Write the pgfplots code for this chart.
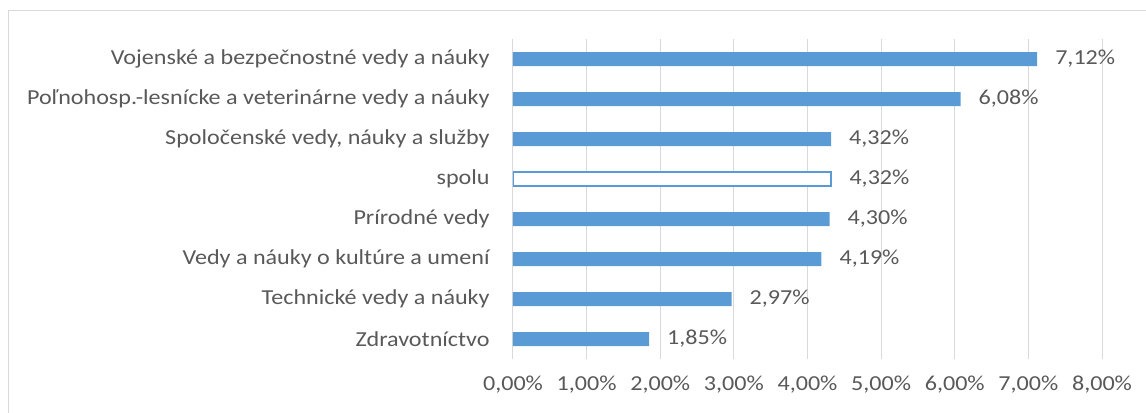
\documentclass[border=0pt]{standalone}
\usepackage{pgfplots}
\pgfplotsset{compat=1.18}
\usepackage{fontspec}
\setmainfont[FakeStretch=1.13]{Carlito}
\definecolor{barblue}{HTML}{5B9BD5}
\definecolor{txt}{HTML}{595959}
\definecolor{gridc}{HTML}{D9D9D9}
\begin{document}
\begin{tikzpicture}
\path[use as bounding box] (0,0) rectangle (859.5pt,309pt);
\draw[gridc, line width=0.75pt] (6pt,-5pt) -- (6pt,301.5pt) -- (870pt,301.5pt);
\begin{axis}[
    at={(384.75pt,39.75pt)}, anchor=south west,
    scale only axis, width=441.75pt, height=240pt,
    xbar, bar width=10.5pt, bar shift=0pt,
    xmin=0, xmax=8, xtick={0,1,...,8},
    ymin=-0.5, ymax=7.5,
    ytick={0,...,7},
    yticklabels={Zdravotníctvo, Technické vedy a náuky, Vedy a náuky o kultúre a umení, Prírodné vedy, spolu, {Spoločenské vedy, náuky a služby}, Poľnohosp.-lesnícke a veterinárne vedy a náuky, Vojenské a bezpečnostné vedy a náuky},
    axis line style={draw=none},
    major tick length=0pt,
    xmajorgrids=true, grid style={gridc, line width=0.75pt},
    font=\fontsize{16}{19}\selectfont,
    tick label style={txt},
    /pgf/number format/assume math mode=true,
    xticklabel={\pgfmathprintnumber[fixed,fixed zerofill,precision=2,use comma]{\tick}\%},
    xticklabel style={yshift=-9pt},
    yticklabel style={xshift=-14pt},
    nodes near coords={\pgfmathprintnumber[fixed,fixed zerofill,precision=2,use comma]{\pgfplotspointmeta}\%},
    every node near coord/.append style={txt, font=\fontsize{16}{19}\selectfont, xshift=10pt},
]
\addplot[draw=none, fill=barblue] coordinates {
    (1.85,0) (2.97,1) (4.19,2) (4.30,3) (4.32,5) (6.08,6) (7.12,7)
};
\addplot[draw=barblue, fill=white, line width=1pt] coordinates {
    (4.32,4)
};
\end{axis}
\end{tikzpicture}
\end{document}
